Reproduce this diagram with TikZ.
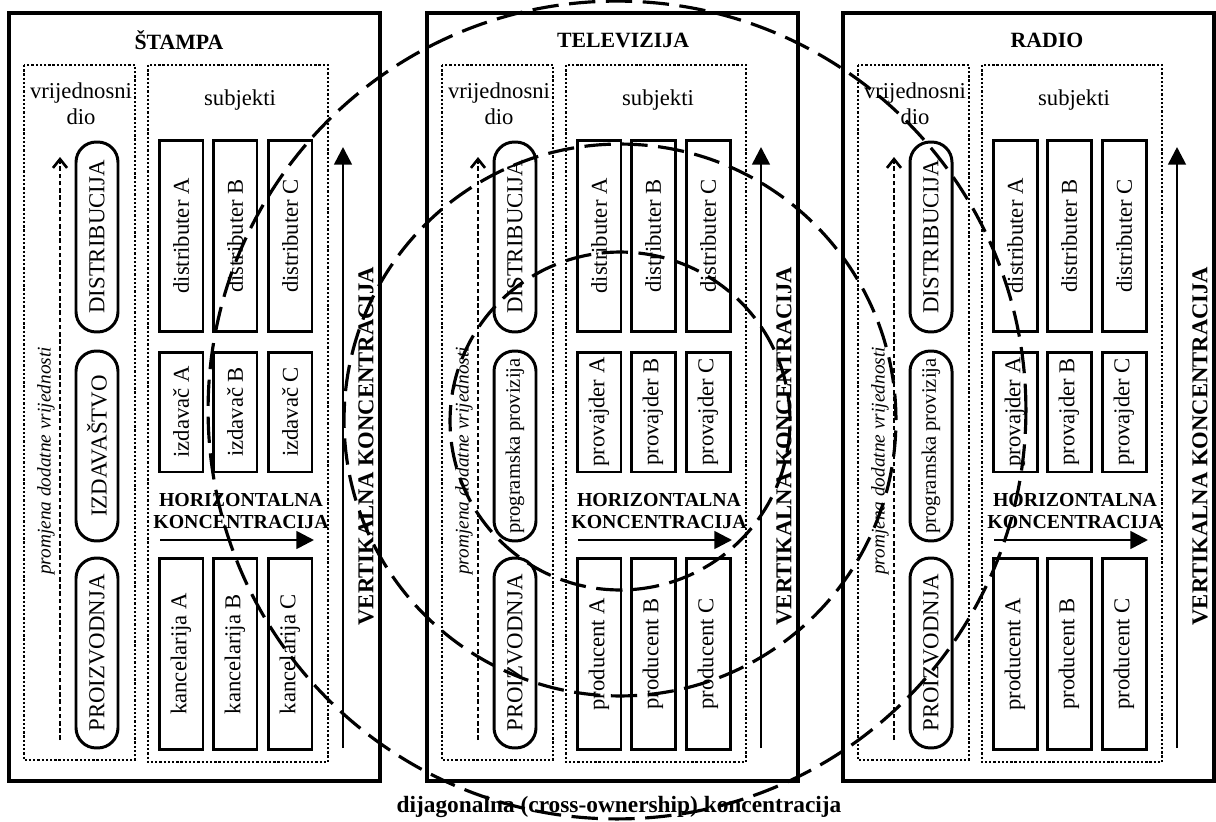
\documentclass[tikz,border=0pt]{standalone}
\usepackage{fontspec}
\setmainfont{Liberation Serif}
\usetikzlibrary{arrows.meta}

\begin{document}
\begin{tikzpicture}[
    x=0.02cm, y=-0.02cm,
    panel/.style={line width=2.4pt},
    dotbox/.style={line width=1.6pt, dash pattern=on 1.3pt off 1.1pt},
    faza/.style={rectangle, rounded corners=11.5pt, draw, line width=1.7pt, rotate=90, minimum width=3.8cm, minimum height=0.84cm, inner sep=0pt, font=\fontsize{13}{15}\selectfont},
    firm/.style={rectangle, draw, line width=1.7pt, rotate=90, minimum height=0.88cm, inner sep=0pt, font=\fontsize{12.9}{15}\selectfont},
    naslov/.style={font=\bfseries\fontsize{12.4}{15}\selectfont},
    lbl/.style={font=\fontsize{12.9}{15}\selectfont, align=center, inner sep=0pt},
    hkonc/.style={font=\bfseries\fontsize{11.3}{13}\selectfont, align=center, inner sep=0pt},
    vkonc/.style={font=\bfseries\fontsize{12.9}{15}\selectfont, rotate=90, inner sep=0pt},
    tok/.style={font=\itshape\fontsize{11}{13}\selectfont, rotate=90, inner sep=0pt},
    varr/.style={-{Triangle[length=10pt,width=10pt]}, line width=1.5pt},
    farr/.style={-{Straight Barb[length=5pt,width=8pt]}, line width=1.5pt, dash pattern=on 2.6pt off 1.5pt},
    diag/.style={line width=1.8pt, dash pattern=on 15pt off 6pt},
]
\useasboundingbox (0,0) rectangle (1216,821);

\foreach \ox/\p/\tx/\medij/\srednja/\fs/\rb/\rc in {
    0/st/179/ŠTAMPA/IZDAVAŠTVO/13/izdavač/kancelarija,
    418/tv/205/TELEVIZIJA/programska provizija/11.7/provajder/producent,
    834/ra/213/RADIO/programska provizija/11.7/provajder/producent}
{
  % okvir medija
  \draw[panel] (\ox+9,13) rectangle (\ox+380,781);
  \node[naslov] (\p-title) at (\ox+\tx,40) {\medij};

  % vrijednosni dio
  \draw[dotbox] (\ox+24,65) rectangle (\ox+135,760);
  \node[lbl] (\p-vd) at (\ox+81,104) {vrijednosni\\dio};
  \node[faza] (\p-dist) at (\ox+97,237) {DISTRIBUCIJA};
  \node[faza, font=\fontsize{\fs}{15}\selectfont] (\p-mid) at (\ox+97,446) {\srednja};
  \node[faza] (\p-prod) at (\ox+97,653) {PROIZVODNJA};
  \coordinate (\p-fs) at (\ox+60,740);
  \coordinate (\p-fe) at (\ox+60,157);
  \draw[farr] (\p-fs) -- (\p-fe);
  \node[tok] (\p-tok) at (\ox+46,461) {promjena dodatne vrijednosti};

  % subjekti
  \draw[dotbox] (\ox+148,65) rectangle (\ox+328,762);
  \node[lbl] (\p-sub) at (\ox+240,100) {subjekti};
  \foreach \c/\x in {A/181, B/235, C/290} {
    \node[firm, minimum width=3.84cm] (\p-d\c) at (\ox+\x,236) {distributer \c};
    \node[firm, minimum width=2.4cm] (\p-m\c) at (\ox+\x,412) {\rb\ \c};
    \node[firm, minimum width=3.84cm] (\p-p\c) at (\ox+\x,654) {\rc\ \c};
  }
  \node[hkonc] (\p-hk) at (\ox+241,511) {HORIZONTALNA\\KONCENTRACIJA};
  \coordinate (\p-hs) at (\ox+160,540);
  \coordinate (\p-he) at (\ox+314,540);
  \draw[varr] (\p-hs) -- (\p-he);

  % vertikalna koncentracija
  \coordinate (\p-vs) at (\ox+343,748);
  \coordinate (\p-ve) at (\ox+343,147);
  \draw[varr] (\p-vs) -- (\p-ve);
  \node[vkonc] (\p-vk) at (\ox+366,446) {VERTIKALNA KONCENTRACIJA};
}

% dijagonalna koncentracija
\node[font=\bfseries\fontsize{13.3}{15}\selectfont] (dk) at (619,807) {dijagonalna (cross-ownership) koncentracija};
\coordinate (c1) at (617,410);
\coordinate (c2) at (620,420);
\coordinate (c3) at (620,421);
\draw[diag] (c1) circle [radius=8.18cm];
\draw[diag] (c2) circle [radius=5.52cm];
\draw[diag] (c3) ellipse [x radius=3.4cm, y radius=3.38cm];

\end{tikzpicture}
\end{document}
